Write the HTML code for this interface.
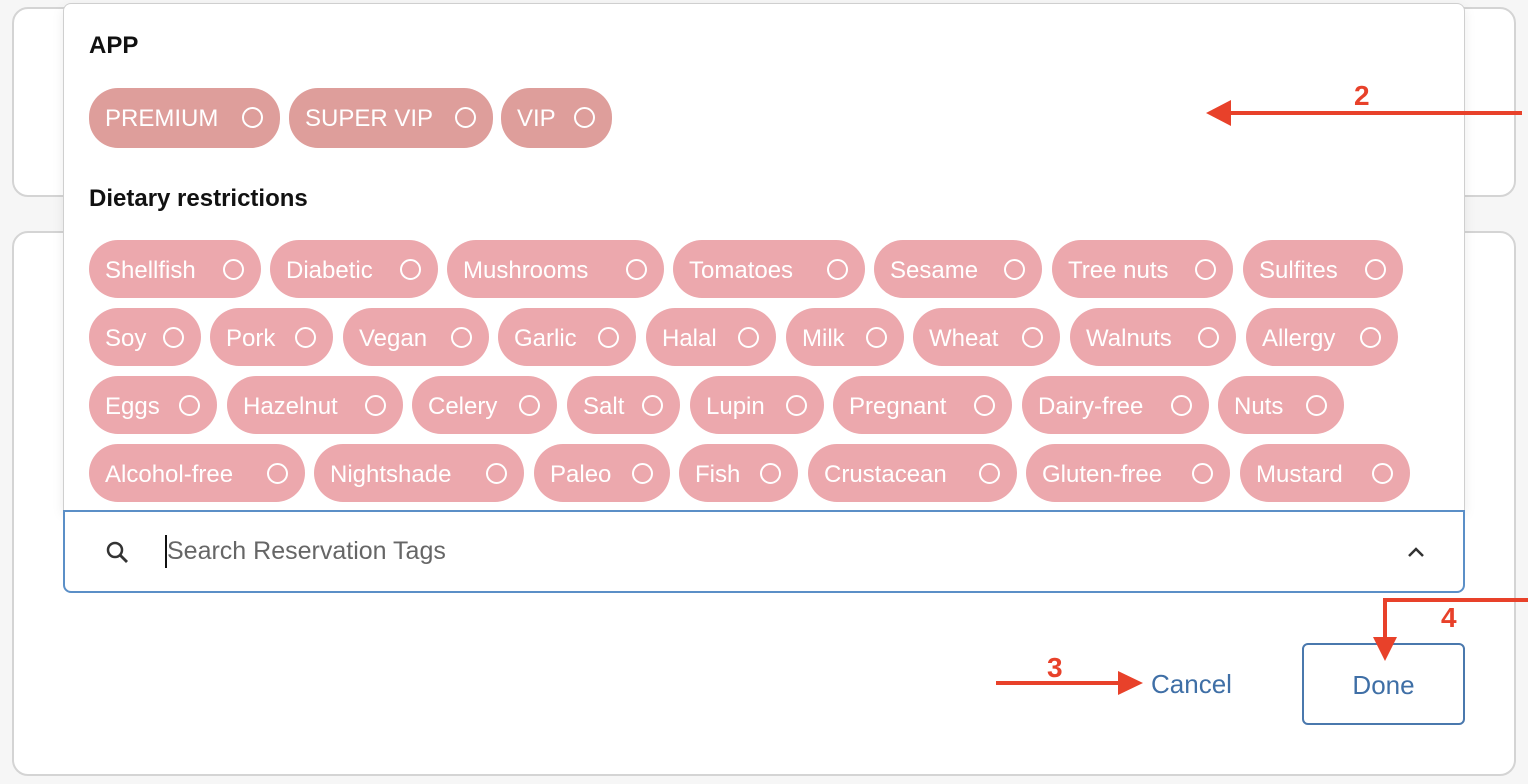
<!DOCTYPE html>
<html><head><meta charset="utf-8"><style>
body{margin:0;width:1528px;height:784px;background:#f6f6f6;position:relative;overflow:hidden;font-family:"Liberation Sans",Arial,sans-serif}
.card{position:absolute;background:#fff;border:2px solid #d4d4d4;border-radius:16px;box-sizing:border-box}
.pop{position:absolute;left:63px;top:3px;width:1402px;height:508px;background:#fff;border:1px solid #cfcfcf;border-bottom:none;border-radius:8px 8px 0 0;box-sizing:border-box;box-shadow:0 4px 12px rgba(0,0,0,.08)}
.h{position:absolute;left:89px;font-weight:bold;font-size:24px;color:#111}
.c{position:absolute;height:58px;border-radius:29px;background:#eca8ad;color:#fff;font-size:24px;letter-spacing:0;line-height:61px;padding-left:16px;box-sizing:border-box;white-space:nowrap}
.c.a{background:#de9e9b}
.c::after{content:"";position:absolute;right:17px;top:19px;width:17px;height:17px;border:2px solid #fff;border-radius:50%}
.search{position:absolute;left:63px;top:510px;width:1402px;height:83px;border:2px solid #5b8fc7;border-radius:0 0 8px 8px;box-sizing:border-box;background:#fff}
.red{position:absolute;color:#e8412a;font-weight:bold;font-size:28px}
</style></head><body>
<div class="card" style="left:12px;top:7px;width:1504px;height:190px"></div>
<div class="card" style="left:12px;top:231px;width:1504px;height:545px"></div>
<div class="pop"></div>
<div class="h" style="top:32px">APP</div>
<div class="c a" style="left:89px;top:88px;width:191px;height:60px">PREMIUM</div>
<div class="c a" style="left:289px;top:88px;width:204px;height:60px">SUPER VIP</div>
<div class="c a" style="left:501px;top:88px;width:111px;height:60px">VIP</div>
<div class="h" style="top:185px">Dietary restrictions</div>

<div class="c" style="left:89px;top:240px;width:172px">Shellfish</div>
<div class="c" style="left:270px;top:240px;width:168px">Diabetic</div>
<div class="c" style="left:447px;top:240px;width:217px">Mushrooms</div>
<div class="c" style="left:673px;top:240px;width:192px">Tomatoes</div>
<div class="c" style="left:874px;top:240px;width:168px">Sesame</div>
<div class="c" style="left:1052px;top:240px;width:181px">Tree nuts</div>
<div class="c" style="left:1243px;top:240px;width:160px">Sulfites</div>

<div class="c" style="left:89px;top:308px;width:112px">Soy</div>
<div class="c" style="left:210px;top:308px;width:123px">Pork</div>
<div class="c" style="left:343px;top:308px;width:146px">Vegan</div>
<div class="c" style="left:498px;top:308px;width:138px">Garlic</div>
<div class="c" style="left:646px;top:308px;width:130px">Halal</div>
<div class="c" style="left:786px;top:308px;width:118px">Milk</div>
<div class="c" style="left:913px;top:308px;width:147px">Wheat</div>
<div class="c" style="left:1070px;top:308px;width:166px">Walnuts</div>
<div class="c" style="left:1246px;top:308px;width:152px">Allergy</div>

<div class="c" style="left:89px;top:376px;width:128px">Eggs</div>
<div class="c" style="left:227px;top:376px;width:176px">Hazelnut</div>
<div class="c" style="left:412px;top:376px;width:145px">Celery</div>
<div class="c" style="left:567px;top:376px;width:113px">Salt</div>
<div class="c" style="left:690px;top:376px;width:134px">Lupin</div>
<div class="c" style="left:833px;top:376px;width:179px">Pregnant</div>
<div class="c" style="left:1022px;top:376px;width:187px">Dairy-free</div>
<div class="c" style="left:1218px;top:376px;width:126px">Nuts</div>

<div class="c" style="left:89px;top:444px;width:216px">Alcohol-free</div>
<div class="c" style="left:314px;top:444px;width:210px">Nightshade</div>
<div class="c" style="left:534px;top:444px;width:136px">Paleo</div>
<div class="c" style="left:679px;top:444px;width:119px">Fish</div>
<div class="c" style="left:808px;top:444px;width:209px">Crustacean</div>
<div class="c" style="left:1026px;top:444px;width:204px">Gluten-free</div>
<div class="c" style="left:1240px;top:444px;width:170px">Mustard</div>

<div class="search">
<svg style="position:absolute;left:40px;top:28px" width="26" height="26" viewBox="0 0 26 26"><circle cx="10" cy="10" r="7" fill="none" stroke="#333" stroke-width="2.5"/><line x1="15" y1="15" x2="22" y2="22" stroke="#333" stroke-width="2.8"/></svg>
<div style="position:absolute;left:100px;top:23px;width:2px;height:33px;background:#111"></div>
<div style="position:absolute;left:102px;top:25px;font-size:25px;color:#666">Search Reservation Tags</div>
<svg style="position:absolute;left:1342px;top:34px" width="18" height="12" viewBox="0 0 18 12"><polyline points="2,10 9,3 16,10" fill="none" stroke="#333" stroke-width="2.5"/></svg>
</div>

<div style="position:absolute;left:1151px;top:669px;font-size:26px;color:#3f6fa6">Cancel</div>
<div style="position:absolute;left:1302px;top:643px;width:163px;height:82px;border:2px solid #4a78ad;border-radius:6px;box-sizing:border-box;color:#3f6fa6;font-size:26px;text-align:center;line-height:80px">Done</div>

<svg style="position:absolute;left:0;top:0" width="1528" height="784">
<g fill="#e8412a" stroke="#e8412a">
<line x1="1522" y1="113" x2="1228" y2="113" stroke-width="4"/>
<polygon points="1206,113 1231,100 1231,126" stroke="none"/>
<line x1="996" y1="683" x2="1120" y2="683" stroke-width="4"/>
<polygon points="1143,683 1118,671 1118,695" stroke="none"/>
<polyline points="1528,600 1385,600 1385,640" fill="none" stroke-width="4"/>
<polygon points="1385,661 1373,637 1397,637" stroke="none"/>
</g></svg>
<div class="red" style="left:1354px;top:80px">2</div>
<div class="red" style="left:1047px;top:652px">3</div>
<div class="red" style="left:1441px;top:602px">4</div>
</body></html>
